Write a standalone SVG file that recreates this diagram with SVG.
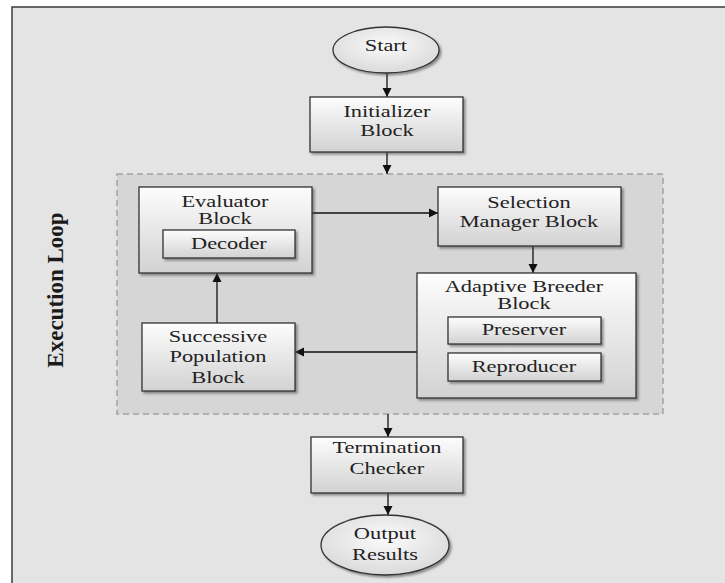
<svg xmlns="http://www.w3.org/2000/svg" width="725" height="583" viewBox="0 0 725 583" font-family="Liberation Serif, Times New Roman, serif">
<defs>
<linearGradient id="gb" x1="0" y1="0" x2="0" y2="1">
<stop offset="0" stop-color="#fdfdfd"/>
<stop offset="1" stop-color="#d2d2d2"/>
</linearGradient>
<radialGradient id="ge" cx="0.5" cy="0.4" r="0.6">
<stop offset="0" stop-color="#fbfbfb"/>
<stop offset="1" stop-color="#dadada"/>
</radialGradient>
<filter id="sh" x="-10%" y="-10%" width="130%" height="130%">
<feDropShadow dx="2" dy="2" stdDeviation="1.2" flood-color="#444" flood-opacity="0.55"/>
</filter>
<marker id="ah" markerWidth="10" markerHeight="10" refX="9" refY="5" orient="auto" markerUnits="userSpaceOnUse">
<path d="M0,0.5 L9,5 L0,9.5 z" fill="#111"/>
</marker>
<style>
.box{fill:url(#gb);stroke:#333;stroke-width:1.3;filter:url(#sh)}
.ell{fill:url(#ge);stroke:#333;stroke-width:1.3;filter:url(#sh)}
.t{font-size:16px;fill:#222;text-anchor:middle;transform-box:fill-box;transform-origin:center;transform:scaleX(1.4)}
.c{fill:none;stroke:#111;stroke-width:1.3;marker-end:url(#ah)}
</style>
</defs>
<rect x="12" y="7" width="730" height="600" fill="#e4e4e4" stroke="#3a3a3a" stroke-width="1.5"/>
<text transform="translate(63,290) rotate(-90)" font-size="23" font-weight="bold" fill="#1a1a1a" text-anchor="middle">Execution Loop</text>
<g id="loop">
<rect x="117" y="174" width="546" height="240" fill="#d6d6d6" stroke="#a3a3a3" stroke-width="1.5" stroke-dasharray="6 4"/>
</g>
<g id="connectors">
<line class="c" x1="387" y1="73" x2="387" y2="97"/>
<line class="c" x1="387" y1="152" x2="387" y2="174"/>
<line class="c" x1="312" y1="213" x2="438" y2="213"/>
<line class="c" x1="533" y1="246" x2="533" y2="273"/>
<line class="c" x1="417" y1="352" x2="295" y2="352"/>
<line class="c" x1="217" y1="323" x2="217" y2="273"/>
<line class="c" x1="388" y1="414" x2="388" y2="437"/>
<line class="c" x1="388" y1="493" x2="388" y2="515"/>
</g>
<g id="start">
<ellipse class="ell" cx="386" cy="50" rx="53" ry="23"/>
<text class="t" x="386" y="51">Start</text>
</g>
<g id="initializer">
<rect class="box" x="310" y="97" width="153" height="55"/>
<text class="t" x="387" y="117">Initializer</text>
<text class="t" x="387" y="136">Block</text>
</g>
<g id="evaluator">
<rect class="box" x="139" y="187" width="173" height="86"/>
<text class="t" x="225" y="207">Evaluator</text>
<text class="t" x="225" y="224">Block</text>
<rect class="box" x="163" y="230" width="132" height="28"/>
<text class="t" x="229" y="249">Decoder</text>
</g>
<g id="selection">
<rect class="box" x="438" y="187" width="183" height="59"/>
<text class="t" x="529" y="208">Selection</text>
<text class="t" x="529" y="227">Manager Block</text>
</g>
<g id="breeder">
<rect class="box" x="417" y="273" width="219" height="125"/>
<text class="t" x="524" y="292">Adaptive Breeder</text>
<text class="t" x="524" y="309">Block</text>
<rect class="box" x="448" y="317" width="153" height="27"/>
<text class="t" x="524" y="335">Preserver</text>
<rect class="box" x="448" y="353" width="153" height="28"/>
<text class="t" x="524" y="372">Reproducer</text>
</g>
<g id="successive">
<rect class="box" x="142" y="323" width="153" height="68"/>
<text class="t" x="218" y="342">Successive</text>
<text class="t" x="218" y="362">Population</text>
<text class="t" x="218" y="383">Block</text>
</g>
<g id="termination">
<rect class="box" x="311" y="437" width="152" height="56"/>
<text class="t" x="387" y="453">Termination</text>
<text class="t" x="387" y="474">Checker</text>
</g>
<g id="output">
<ellipse class="ell" cx="385" cy="545" rx="64" ry="30"/>
<text class="t" x="385" y="539">Output</text>
<text class="t" x="385" y="560">Results</text>
</g>
</svg>
